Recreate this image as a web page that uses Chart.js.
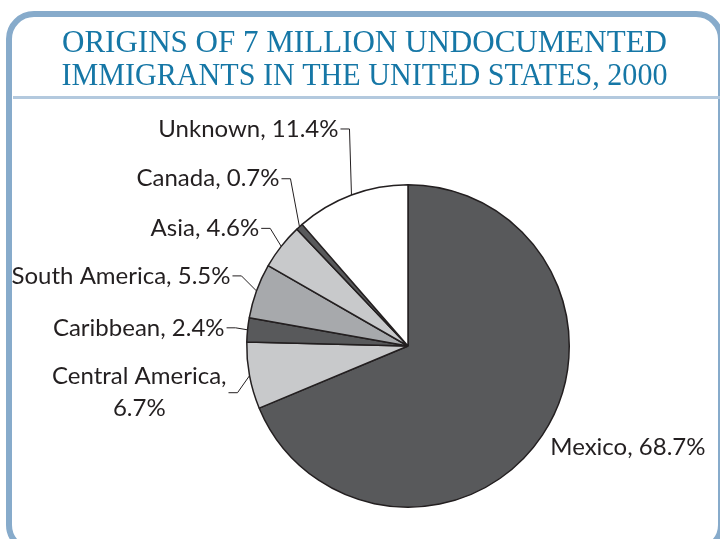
<!DOCTYPE html>
<html>
<head>
<meta charset="utf-8">
<script src="https://cdn.jsdelivr.net/npm/chart.js@4"></script>
<style>
    html, body { margin: 0; padding: 0; background: #fff; overflow: hidden; }
    #wrap { position: relative; width: 720px; height: 539px; }
    #frame {
        position: absolute; left: 6px; top: 11px; width: 706px; height: 530px;
        border: 6px solid #87abcb; border-radius: 28px; box-sizing: content-box;
    }
    #rule { position: absolute; left: 13px; top: 96px; width: 707px; height: 3px; background: #b3c9de; }
    canvas { position: absolute; left: 0; top: 0; }
</style>
</head>
<body>
<div id="wrap">
    <div id="frame"></div>
    <div id="rule"></div>
    <canvas id="pieChart" width="720" height="539"></canvas>
</div>
<script>
// Data
const categories = ['Mexico', 'Central America', 'Caribbean', 'South America', 'Asia', 'Canada', 'Unknown'];
const shares = [68.7, 6.7, 2.4, 5.5, 4.6, 0.7, 11.4];
const titleLines = ['ORIGINS OF 7 MILLION UNDOCUMENTED', 'IMMIGRANTS IN THE UNITED STATES, 2000'];

const sliceColors = ['#58595b', '#c8c9cb', '#58595b', '#a7a9ac', '#c8c9cb', '#58595b', '#ffffff'];

// label placement relative to the slice's mid-angle point on the rim
const labelLayout = [
    { dx: 8, dy: 12, leader: false },
    { dx: -12, dy: 17, leader: true, split: true },
    { dx: -12, dy: -2, leader: true },
    { dx: -15, dy: -15, leader: true },
    { dx: -11, dy: -18, leader: true },
    { dx: -9, dy: -48, leader: true },
    { dx: -2, dy: -66, leader: true }
];

const titlePlugin = {
    id: 'fittedTitle',
    afterDraw(chart) {
        const ctx = chart.ctx;
        ctx.save();
        ctx.fillStyle = '#1677a6';
        ctx.font = '32px "Liberation Serif"';
        ctx.textBaseline = 'alphabetic';
        const widths = [605, 606];
        const baselines = [52, 85];
        titleLines.forEach((t, i) => {
            const w = ctx.measureText(t).width;
            const sx = widths[i] / w;
            ctx.save();
            ctx.translate(364.5, baselines[i]);
            ctx.scale(sx, 1);
            ctx.textAlign = 'center';
            ctx.fillText(t, 0, 0);
            ctx.restore();
        });
        ctx.restore();
    }
};

const sliceLabels = {
    id: 'sliceLabels',
    afterDatasetsDraw(chart) {
        const ctx = chart.ctx;
        const arcs = chart.getDatasetMeta(0).data;
        ctx.save();
        ctx.font = '24px Lato';
        ctx.fillStyle = '#231f20';
        ctx.strokeStyle = '#231f20';
        ctx.lineWidth = 1;
        ctx.textBaseline = 'middle';
        arcs.forEach((arc, i) => {
            const p = arc.getProps(['x', 'y', 'startAngle', 'endAngle', 'outerRadius'], true);
            const mid = (p.startAngle + p.endAngle) / 2;
            const ax = p.x + Math.cos(mid) * p.outerRadius;
            const ay = p.y + Math.sin(mid) * p.outerRadius;
            const lay = labelLayout[i];
            const text = `${categories[i]}, ${shares[i]}%`;
            const ex = ax + lay.dx;
            const ey = ay + lay.dy;
            if (!lay.leader) {
                ctx.textAlign = 'left';
                ctx.fillText(text, ex, ey);
                return;
            }
            ctx.beginPath();
            ctx.moveTo(ax, ay);
            ctx.lineTo(ex, ey);
            ctx.lineTo(ex - 9, ey);
            ctx.stroke();
            const right = ex - 11;
            if (lay.split) {
                const l1 = `${categories[i]},`;
                const l2 = `${shares[i]}%`;
                const w = ctx.measureText(l1).width;
                ctx.textAlign = 'center';
                ctx.fillText(l1, right - w / 2, ey - 16);
                ctx.fillText(l2, right - w / 2, ey + 16);
            } else {
                ctx.textAlign = 'right';
                ctx.fillText(text, right, ey);
            }
        });
        ctx.restore();
    }
};

new Chart(document.getElementById('pieChart').getContext('2d'), {
    type: 'pie',
    data: {
        labels: categories,
        datasets: [{
            data: shares,
            backgroundColor: sliceColors,
            borderColor: '#231f20',
            borderWidth: 1.5
        }]
    },
    options: {
        responsive: false,
        animation: false,
        layout: { padding: { left: 246, right: 150, top: 184, bottom: 31 } },
        plugins: {
            legend: { display: false },
            tooltip: { enabled: false }
        }
    },
    plugins: [titlePlugin, sliceLabels]
});
</script>
</body>
</html>
